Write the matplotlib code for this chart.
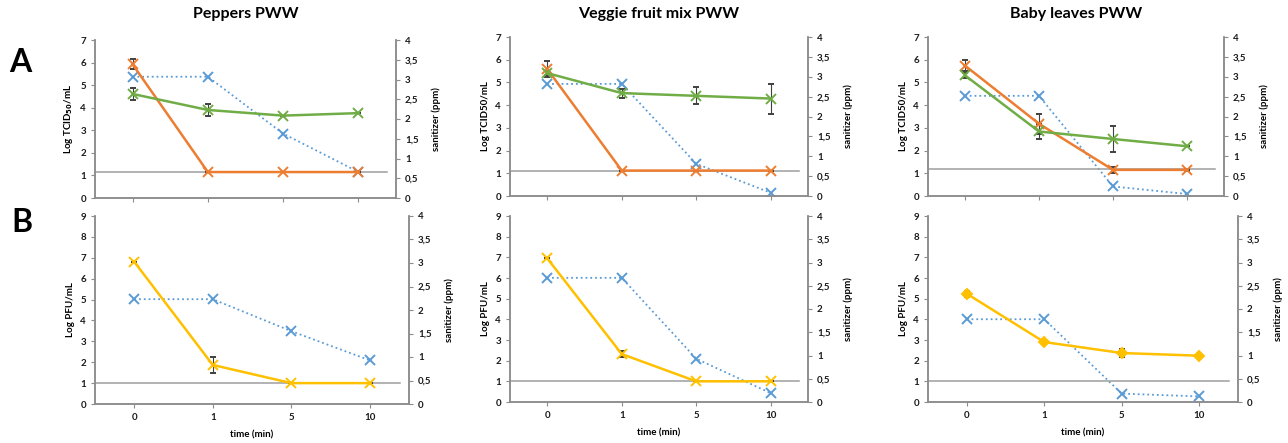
import matplotlib
matplotlib.use("Agg")
import matplotlib.pyplot as plt
from matplotlib.ticker import FuncFormatter, MultipleLocator

plt.rcParams["font.family"] = ["Lato", "DejaVu Sans"]
plt.rcParams["font.weight"] = "bold"

TIMES = ["0", "1", "5", "10"]
TITLES = ["Peppers PWW", "Veggie fruit mix PWW", "Baby leaves PWW"]

# Row A: Log TCID50/mL (orange, green) and sanitizer ppm (blue, right axis)
A_ORANGE = [[5.92, 1.15, 1.15, 1.15], [5.59, 1.12, 1.12, 1.12], [5.74, 3.18, 1.15, 1.15]]
A_ORANGE_ERR = [[0.22, 0, 0, 0], [0.35, 0, 0, 0], [0.24, 0.45, 0.12, 0.05]]
A_GREEN = [[4.61, 3.90, 3.65, 3.76], [5.41, 4.53, 4.41, 4.29], [5.31, 2.84, 2.51, 2.19]]
A_GREEN_ERR = [[0.26, 0.26, 0, 0], [0.1, 0.2, 0.37, 0.66], [0.1, 0.35, 0.59, 0]]
A_SANITIZER = [[3.07, 3.07, 1.63, 0.66], [2.82, 2.82, 0.81, 0.08], [2.52, 2.52, 0.24, 0.05]]
A_LOD = [1.16, 1.12, 1.21]

# Row B: Log PFU/mL (yellow) and sanitizer ppm (blue, right axis)
B_YELLOW = [[6.81, 1.87, 1.0, 1.0], [6.95, 2.32, 1.0, 1.0], [5.24, 2.90, 2.37, 2.24]]
B_YELLOW_ERR = [[0, 0.4, 0, 0], [0, 0.16, 0, 0], [0.15, 0.1, 0.2, 0]]
B_SANITIZER = [[2.23, 2.23, 1.55, 0.93], [2.67, 2.67, 0.93, 0.19], [1.78, 1.78, 0.18, 0.12]]
B_LOD = [1.0, 1.0, 1.0]

ORANGE = "#ED7D31"
GREEN = "#70AD47"
BLUE = "#5B9BD5"
YELLOW = "#FFC000"
AXIS_GRAY = "#8C8C8C"

W, H = 1288, 443
# pixel boxes (left, right, top, bottom)
A_BOXES = [(95, 396, 40, 198), (510, 808, 37, 196), (928, 1224, 37, 196)]
B_BOXES = [(95, 409, 216, 404), (510, 808, 216, 402), (928, 1238, 216, 402)]

comma = FuncFormatter(lambda v, p: f"{v:g}".replace(".", ","))
FS = 7


def make_axes(fig, box):
    l, r, t, b = box
    ax = fig.add_axes([l / W, 1 - b / H, (r - l) / W, (b - t) / H])
    ax2 = ax.twinx()
    for a in (ax, ax2):
        a.spines["top"].set_visible(False)
        for s in ("left", "right", "bottom"):
            a.spines[s].set_color(AXIS_GRAY)
            a.spines[s].set_linewidth(1.1)
        a.tick_params(colors=AXIS_GRAY, labelcolor="#1a1a1a", labelsize=FS, length=3, width=0.8)
        a.set_facecolor("none")
    ax.set_xlim(-0.5, 3.5)
    ax.set_xticks(range(len(TIMES)))
    ax2.set_ylim(0, 4)
    ax2.yaxis.set_major_locator(MultipleLocator(0.5))
    ax2.yaxis.set_major_formatter(comma)
    ax2.set_ylabel("sanitizer (ppm)", fontsize=FS, fontweight="bold", labelpad=9)
    ax.set_zorder(ax2.get_zorder() + 1)
    ax.patch.set_visible(False)
    return ax, ax2


fig = plt.figure(figsize=(W / 100, H / 100), dpi=100)
x = list(range(len(TIMES)))

for i in range(3):
    ax, ax2 = make_axes(fig, A_BOXES[i])
    ax.set_ylim(0, 7)
    ax.yaxis.set_major_locator(MultipleLocator(1))
    ax.set_xticklabels([])
    ax.axhline(A_LOD[i], xmin=0, xmax=0.97, color="#9E9E9E", lw=1.1, zorder=1)
    ax2.plot(x, A_SANITIZER[i], ls=":", color=BLUE, lw=1.3, marker="x", ms=6.5, mew=1.4)
    ax.errorbar(x, A_ORANGE[i], yerr=A_ORANGE_ERR[i], color=ORANGE, lw=1.8, marker="x", ms=6.5, mew=1.4,
                ecolor="#404040", elinewidth=0.8, capsize=2, zorder=3)
    ax.errorbar(x, A_GREEN[i], yerr=A_GREEN_ERR[i], color=GREEN, lw=1.8, marker="x", ms=6.5, mew=1.4,
                ecolor="#404040", elinewidth=0.8, capsize=2, zorder=3)
    ylab = "Log TCID$_{50}$/mL" if i == 0 else "Log TCID50/mL"
    ax.set_ylabel(ylab, fontsize=FS, fontweight="bold", labelpad=4)
    l, r, t, b = A_BOXES[i]
    fig.text((l + r) / 2 / W, 1 - 14 / H, TITLES[i], ha="center", va="center", fontsize=11.5, fontweight="bold")

for i in range(3):
    ax, ax2 = make_axes(fig, B_BOXES[i])
    ax.set_ylim(0, 9)
    ax.yaxis.set_major_locator(MultipleLocator(1))
    ax.set_xticklabels(TIMES)
    ax.axhline(B_LOD[i], xmin=0, xmax=0.97, color="#9E9E9E", lw=1.1, zorder=1)
    ax2.plot(x, B_SANITIZER[i], ls=":", color=BLUE, lw=1.3, marker="x", ms=6.5, mew=1.4)
    mk = "D" if i == 2 else "x"
    ax.errorbar(x, B_YELLOW[i], yerr=B_YELLOW_ERR[i], color=YELLOW, lw=1.8, marker=mk,
                ms=5.5 if mk == "D" else 6.5, mew=1.4, ecolor="#404040", elinewidth=0.8, capsize=2, zorder=3)
    ax.set_ylabel("Log PFU/mL", fontsize=FS, fontweight="bold", labelpad=4)
    ax.set_xlabel("time (min)", fontsize=FS, fontweight="bold", labelpad=6)

fig.text(20 / W, 1 - 62 / H, "A", ha="center", va="center", fontsize=23, fontweight="bold")
fig.text(22 / W, 1 - 222 / H, "B", ha="center", va="center", fontsize=23, fontweight="bold")

fig.savefig("out.png", dpi=100)
